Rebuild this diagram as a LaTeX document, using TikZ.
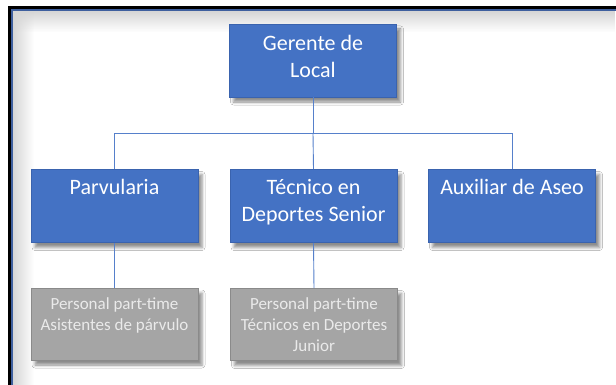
\documentclass[tikz,border=0pt]{standalone}
\usepackage{fontspec}
\setmainfont{Carlito}
\usetikzlibrary{shadows.blur,fadings}
\definecolor{boxblue}{HTML}{4472C4}
\definecolor{boxblueedge}{HTML}{3A63AE}
\definecolor{boxgray}{HTML}{A5A5A5}
\definecolor{boxgrayedge}{HTML}{8A8A8A}
\definecolor{graytext}{HTML}{EAEAEA}
\definecolor{linkblue}{HTML}{5680CB}
\definecolor{frameblue}{HTML}{3E5F9E}
\tikzfading[name=fadedown, top color=transparent!0, bottom color=transparent!100]
\tikzfading[name=faderight, left color=transparent!0, right color=transparent!100]
\tikzset{
  bluebox/.style={draw=boxblueedge, line width=0.8pt, fill=boxblue, minimum width=167pt, minimum height=73pt, inner sep=0pt,
    blur shadow={shadow xshift=4pt, shadow yshift=-5pt, shadow blur radius=3pt, shadow opacity=45}},
  graybox/.style={draw=boxgrayedge, line width=0.8pt, fill=boxgray, minimum width=167pt, minimum height=72pt, inner sep=0pt,
    blur shadow={shadow xshift=4pt, shadow yshift=-5pt, shadow blur radius=3pt, shadow opacity=45}},
  btxt/.style={text=white, inner sep=0pt, anchor=base, font=\fontsize{22}{27}\selectfont},
  gtxt/.style={text=graytext, inner sep=0pt, anchor=base, font=\fontsize{17}{21}\selectfont},
  link/.style={draw=linkblue, line width=0.9pt}
}
\begin{document}
\begin{tikzpicture}[x=1pt,y=-1pt]
\useasboundingbox (0,0) rectangle (616,385);
\fill[white] (0,0) rectangle (616,385);
% frame
\fill[black] (8,6) rectangle (616,385);
\fill[frameblue] (11,9.5) rectangle (616,385);
\fill[white] (12.8,11.3) rectangle (616,385);
\fill[black!16, path fading=fadedown] (12.8,11.3) rectangle (616,32);
\fill[black!16, path fading=faderight] (12.8,11.3) rectangle (34,385);
% boxes
\node[bluebox] (ger) at (313,60.5) {};
\node[bluebox] (parv) at (114.5,206) {};
\node[bluebox] (tec) at (313.5,206) {};
\node[bluebox] (aux) at (512,206) {};
\node[graybox] (asis) at (114.5,324) {};
\node[graybox] (tecj) at (314,324.5) {};
% connectors
\coordinate (bar) at (313,133);
\draw[link] (ger.south) -- (bar);
\draw[link] (bar) -| (parv.north);
\draw[link] (bar) -| (aux.north);
\draw[link] (bar) -- (tec.north);
\draw[link] (parv.south) -- (asis.north);
\draw[link] (tec.south) -- (tecj.north);
% texts
\node[btxt] (gerT) at (313,51) {\parbox[t]{160pt}{\centering Gerente de\\Local}};
\node[btxt] (parvT) at (114.5,194) {\parbox[t]{160pt}{\centering Parvularia}};
\node[btxt] (tecT) at (313.5,194) {\parbox[t]{160pt}{\centering Técnico en\\Deportes Senior}};
\node[btxt] (auxT) at (512,194) {\parbox[t]{164pt}{\centering Auxiliar de Aseo}};
\node[gtxt] (asisT) at (114.5,309) {\parbox[t]{164pt}{\centering Personal part-time\\Asistentes de párvulo}};
\node[gtxt] (tecjT) at (314,309) {\parbox[t]{164pt}{\centering Personal part-time\\Técnicos en Deportes\\Junior}};
\end{tikzpicture}
\end{document}
